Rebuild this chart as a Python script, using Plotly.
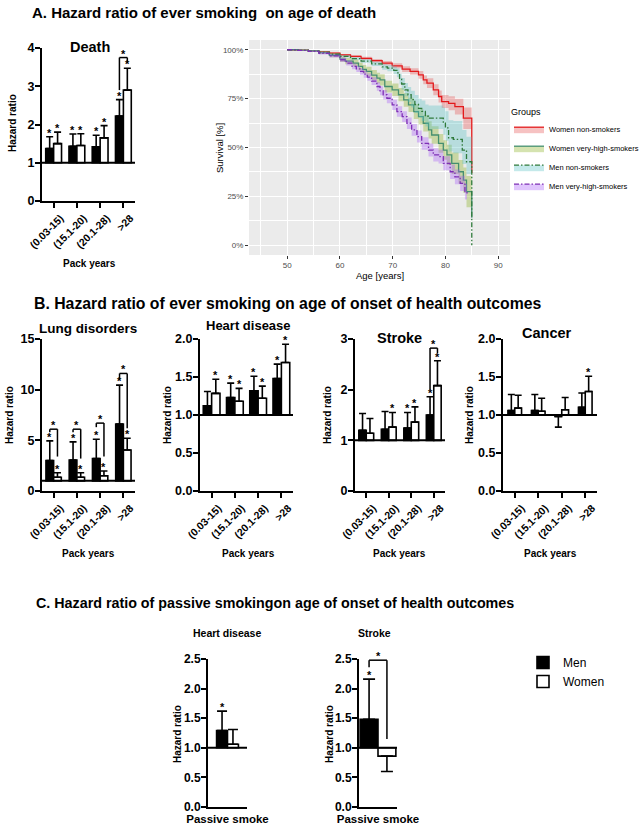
import plotly.graph_objects as go

W, H = 644, 830
FONT = "Liberation Sans, Arial, Helvetica, sans-serif"

# ---------------- data ----------------
pack_years = ["(0.03-15)", "(15.1-20)", "(20.1-28)", ">28"]
passive = ["Passive smoke"]

# A. death
death_men = [1.37, 1.43, 1.42, 2.22]
death_men_ci = [1.68, 1.75, 1.72, 2.65]
death_women = [1.50, 1.45, 1.65, 2.90]
death_women_ci = [1.80, 1.76, 1.97, 3.47]
death_men_sig = [1, 1, 1, 1]
death_women_sig = [1, 1, 1, 1]
death_brackets = [(3, 2.90, 3.75, 3.62)]

# B. lung disorders
lung_men = [3.00, 3.05, 3.20, 6.60]
lung_men_ci = [4.95, 4.85, 5.10, 10.45]
lung_women = [1.35, 1.35, 1.50, 4.05]
lung_women_ci = [1.80, 1.80, 1.97, 5.20]
lung_men_sig = [1, 1, 1, 1]
lung_women_sig = [1, 1, 1, 1]
lung_brackets = [(0, 5.8, 6.1, 3.4), (1, 5.8, 6.1, 3.2), (2, 6.3, 6.7, 3.4), (3, 11.0, 11.6, 6.2)]

# B. heart disease
heart_men = [1.12, 1.23, 1.32, 1.48]
heart_men_ci = [1.31, 1.42, 1.51, 1.67]
heart_women = [1.285, 1.18, 1.22, 1.69]
heart_women_ci = [1.47, 1.35, 1.38, 1.93]
heart_men_sig = [0, 1, 1, 1]
heart_women_sig = [1, 1, 1, 1]

# B. stroke
stroke_men = [1.20, 1.22, 1.24, 1.50]
stroke_men_ci = [1.53, 1.57, 1.55, 1.86]
stroke_women = [1.14, 1.26, 1.36, 2.08]
stroke_women_ci = [1.43, 1.55, 1.66, 2.57]
stroke_men_sig = [0, 0, 1, 1]
stroke_women_sig = [0, 1, 1, 1]
stroke_brackets = [(3, 2.0, 2.82, 2.72)]

# B. cancer
cancer_men = [1.06, 1.06, 0.98, 1.10]
cancer_men_ci = [1.27, 1.27, 0.84, 1.29]
cancer_women = [1.09, 1.05, 1.07, 1.31]
cancer_women_ci = [1.26, 1.22, 1.23, 1.51]
cancer_men_sig = [0, 0, 0, 0]
cancer_women_sig = [0, 0, 0, 1]

# C. passive smoking
ps_heart_men = [1.29]
ps_heart_men_ci = [1.62]
ps_heart_women = [1.06]
ps_heart_women_ci = [1.31]
ps_stroke_men = [1.48]
ps_stroke_men_ci = [2.16]
ps_stroke_women = [0.86]
ps_stroke_women_ci = [0.60]
ps_stroke_brackets = [(0, 2.36, 2.48, 1.15)]

# A. Kaplan-Meier survival (%)
wn_age = [50, 52, 54, 56, 58, 60, 62, 64, 66, 68, 69.9, 71.8, 73.3, 74.9, 75.8, 76.5, 77.7, 78.7, 79.3, 80.6, 81.8, 83.4, 85]
wn_surv = [100, 99.8, 99.4, 98.9, 98.3, 97.4, 96.6, 95.6, 94.4, 93.2, 91.8, 90.1, 88.9, 87.2, 84.6, 82.9, 79.5, 76.1, 73.5, 72.6, 70.9, 65.0, 37.0]
wn_lo = [100, 99.7, 99.2, 98.6, 97.9, 96.9, 96.0, 94.8, 93.5, 92.1, 90.5, 88.6, 87.2, 85.2, 82.3, 80.4, 76.7, 73.0, 70.2, 69.0, 66.9, 59.5, 59.5]
wn_hi = [100, 99.9, 99.6, 99.2, 98.7, 97.9, 97.2, 96.4, 95.3, 94.3, 93.1, 91.6, 90.6, 89.2, 86.9, 85.4, 82.3, 79.2, 76.8, 76.2, 74.9, 70.5, 70.5]

wv_age = [50, 52, 54, 56, 58, 60, 61, 62.5, 63.5, 64.3, 65, 66, 67, 67.6, 68.5, 69.9, 71.1, 72.1, 73, 74, 74.9, 75.8, 76.8, 77.4, 78.7, 79.6, 80.3, 81.2, 82.5, 83.4, 84, 85]
wv_surv = [100, 99.8, 99.4, 98.6, 97.2, 95.2, 94.2, 93.2, 91.5, 90.0, 88.9, 87.0, 85.5, 84.6, 81.2, 79.5, 77.0, 74.4, 71.8, 68.4, 65.8, 62.4, 59.0, 56.4, 52.1, 48.7, 46.2, 41.9, 37.6, 33.3, 27.4, 14.0]
wv_lo = [100, 99.6, 99.0, 97.9, 96.2, 93.8, 92.6, 91.4, 89.5, 87.8, 86.5, 84.4, 82.7, 81.7, 78.2, 76.3, 73.6, 70.9, 68.2, 64.6, 61.8, 58.2, 54.6, 51.9, 47.3, 43.7, 41.0, 36.4, 31.6, 26.8, 19.4, 19.4]
wv_hi = [100, 100, 99.8, 99.3, 98.2, 96.6, 95.8, 95.0, 93.5, 92.2, 91.3, 89.6, 88.3, 87.5, 84.2, 82.7, 80.4, 77.9, 75.4, 72.2, 69.8, 66.6, 63.4, 60.9, 56.9, 53.7, 51.4, 47.4, 43.6, 39.8, 35.4, 35.4]

mn_age = [50, 52, 54, 56, 58, 60, 62, 64, 66, 68, 69, 70.2, 70.8, 71.3, 71.7, 72.3, 72.9, 73.5, 74.2, 74.9, 75.5, 76.2, 76.8, 79.6, 80.0, 80.6, 81.5, 83.2, 84.0, 85]
mn_surv = [100, 99.7, 99.3, 98.6, 97.7, 96.6, 95.5, 94.2, 92.8, 91.2, 90.6, 89.5, 88.2, 85.0, 82.5, 79.5, 77.0, 74.5, 72.0, 70.0, 68.5, 66.0, 65.0, 62.5, 60.0, 55.0, 54.2, 48.7, 42.7, 0.0]
mn_lo = [100, 99.6, 99.1, 98.3, 97.3, 96.0, 94.8, 93.3, 91.7, 89.8, 89.0, 87.5, 85.9, 82.3, 79.5, 76.2, 73.3, 70.5, 67.7, 65.4, 63.6, 60.8, 59.5, 56.5, 53.5, 48.0, 47.0, 41.5, 36.5, 36.5]
mn_hi = [100, 99.8, 99.5, 98.9, 98.1, 97.2, 96.2, 95.1, 93.9, 92.6, 92.2, 91.5, 90.5, 87.7, 85.5, 83.0, 81.0, 79.0, 76.8, 75.0, 74.0, 72.0, 71.5, 70.5, 68.5, 64.0, 63.5, 59.0, 55.5, 55.5]

mv_age = [50, 52, 54, 56, 58, 60, 61.2, 62.3, 63.1, 63.8, 64.5, 65.2, 66.0, 67.0, 67.6, 68.2, 68.9, 69.9, 70.8, 71.8, 72.7, 73.6, 74.6, 75.5, 76.8, 77.7, 78.7, 79.6, 80.9, 81.8, 82.8, 83.7, 84.1]
mv_surv = [100, 99.7, 99.2, 98.2, 96.9, 94.9, 93.2, 91.5, 90.2, 88.9, 87.5, 86.0, 84.0, 81.2, 79.0, 77.0, 75.2, 71.8, 68.4, 65.8, 62.4, 59.0, 55.6, 52.1, 48.7, 46.2, 45.3, 41.9, 37.6, 35.0, 31.6, 27.4, 26.0]
mv_lo = [100, 99.5, 98.8, 97.6, 96.1, 93.8, 91.9, 90.0, 88.6, 87.2, 85.7, 84.1, 82.0, 79.0, 76.7, 74.6, 72.7, 69.2, 65.7, 63.0, 59.5, 56.0, 52.5, 48.9, 45.4, 42.8, 41.8, 38.3, 33.9, 31.2, 27.7, 23.4, 22.0]
mv_hi = [100, 99.9, 99.6, 98.8, 97.7, 96.0, 94.5, 93.0, 91.8, 90.6, 89.3, 87.9, 86.0, 83.4, 81.3, 79.4, 77.7, 74.4, 71.1, 68.6, 65.3, 62.0, 58.7, 55.3, 52.0, 49.6, 48.8, 45.5, 41.3, 38.8, 35.5, 31.4, 30.0]

km_names = ["Women non-smokers", "Women very-high-smokers", "Men non-smokers", "Men very-high-smokers"]
km_ticks_x = [50, 60, 70, 80, 90]
km_ticks_y = [0, 25, 50, 75, 100]
km_ticks_y_text = ["0%", "25%", "50%", "75%", "100%"]

# ---------------- helpers ----------------
def axname(a):
    return ("xaxis" if a[0] == "x" else "yaxis") + a[1:]

def bold(size, color="black"):
    return dict(family=FONT, size=size, color=color, weight="bold")

fig = go.Figure()
annotations = []
shapes = []
layout_axes = {}

bar_panels = [
    dict(xa="x", ya="y", cats=pack_years, men=death_men, men_ci=death_men_ci, women=death_women,
         women_ci=death_women_ci, msig=death_men_sig, wsig=death_women_sig, brackets=death_brackets,
         yr=[0, 4], tickvals=[0, 1, 2, 3, 4], fmt="d", box=(42, 135, 48, 201), w=0.34, cap=3.5,
         xticks="outside", tickangle=-45, xfs=10.5, yfs=12.5, shift=7),
    dict(xa="x3", ya="y3", cats=pack_years, men=lung_men, men_ci=lung_men_ci, women=lung_women,
         women_ci=lung_women_ci, msig=lung_men_sig, wsig=lung_women_sig, brackets=lung_brackets,
         yr=[0, 15], tickvals=[0, 5, 10, 15], fmt="d", box=(42, 135, 339, 491), w=0.33, cap=3.5,
         xticks="outside", tickangle=-45, xfs=10.5, yfs=12.5, shift=7),
    dict(xa="x4", ya="y4", cats=pack_years, men=heart_men, men_ci=heart_men_ci, women=heart_women,
         women_ci=heart_women_ci, msig=heart_men_sig, wsig=heart_women_sig, brackets=[],
         yr=[0, 2], tickvals=[0, 0.5, 1, 1.5, 2], fmt=".1f", box=(200, 293, 339, 491), w=0.36, cap=3.5,
         xticks="outside", tickangle=-45, xfs=10.5, yfs=12.5, shift=7),
    dict(xa="x5", ya="y5", cats=pack_years, men=stroke_men, men_ci=stroke_men_ci, women=stroke_women,
         women_ci=stroke_women_ci, msig=stroke_men_sig, wsig=stroke_women_sig, brackets=stroke_brackets,
         yr=[0, 3], tickvals=[0, 1, 2, 3], fmt="d", box=(355, 445, 339, 491), w=0.33, cap=3.5,
         xticks="outside", tickangle=-45, xfs=10.5, yfs=12.5, shift=7),
    dict(xa="x6", ya="y6", cats=pack_years, men=cancer_men, men_ci=cancer_men_ci, women=cancer_women,
         women_ci=cancer_women_ci, msig=cancer_men_sig, wsig=cancer_women_sig, brackets=[],
         yr=[0, 2], tickvals=[0, 0.5, 1, 1.5, 2], fmt=".1f", box=(503, 597, 339, 491), w=0.29, cap=3.5,
         xticks="outside", tickangle=-45, xfs=10.5, yfs=12.5, shift=7),
    dict(xa="x7", ya="y7", cats=passive, men=ps_heart_men, men_ci=ps_heart_men_ci, women=ps_heart_women,
         women_ci=ps_heart_women_ci, msig=[1], wsig=[0], brackets=[],
         yr=[0, 2.5], tickvals=[0, 0.5, 1, 1.5, 2, 2.5], fmt=".1f", box=(208, 247, 659, 807), w=0.28, cap=5,
         xticks="", tickangle=0, xfs=11.5, yfs=12, shift=0),
    dict(xa="x8", ya="y8", cats=passive, men=ps_stroke_men, men_ci=ps_stroke_men_ci, women=ps_stroke_women,
         women_ci=ps_stroke_women_ci, msig=[1], wsig=[0], brackets=ps_stroke_brackets,
         yr=[0, 2.5], tickvals=[0, 0.5, 1, 1.5, 2, 2.5], fmt=".1f", box=(359, 397, 659, 807), w=0.47, cap=6,
         xticks="", tickangle=0, xfs=11.5, yfs=12, shift=0),
]

for i, p in enumerate(bar_panels):
    x0, x1, y0, y1 = p["box"]
    n = len(p["cats"])
    w = p["w"]
    last = (i == len(bar_panels) - 1)
    for sex, vals, cis, fill, off, sig in (
        ("Men", p["men"], p["men_ci"], "black", -w, p["msig"]),
        ("Women", p["women"], p["women_ci"], "white", 0.0, p["wsig"]),
    ):
        length = [v - 1 for v in vals]
        up = [(c - v) if v >= 1 else 0 for v, c in zip(vals, cis)]
        dn = [(v - c) if v < 1 else 0 for v, c in zip(vals, cis)]
        fig.add_trace(go.Bar(
            x=p["cats"], y=length, base=1, offset=off, width=w, name=sex,
            marker=dict(color=fill, line=dict(color="black", width=1.6)),
            error_y=dict(type="data", symmetric=False, array=up, arrayminus=dn,
                         color="black", thickness=1.6, width=p["cap"]),
            xaxis=p["xa"], yaxis=p["ya"], legend="legend2",
            showlegend=last, hoverinfo="skip"))
        centre = off + w / 2
        for k, (v, c, s) in enumerate(zip(vals, cis, sig)):
            if s:
                annotations.append(dict(x=k + centre, y=c, xref=p["xa"], yref=p["ya"], text="*",
                                        showarrow=False, yanchor="bottom", yshift=-4,
                                        font=bold(11)))
    # significance brackets
    for (k, yl, yt, yr_) in p["brackets"]:
        xl, xr = k - w / 2, k + w / 2
        for (ax0, ay0, ax1, ay1) in ((xl, yl, xl, yt), (xl, yt, xr, yt), (xr, yt, xr, yr_)):
            shapes.append(dict(type="line", xref=p["xa"], yref=p["ya"], x0=ax0, y0=ay0, x1=ax1, y1=ay1,
                               line=dict(color="black", width=1.5)))
        annotations.append(dict(x=k, y=yt, xref=p["xa"], yref=p["ya"], text="*", showarrow=False,
                                yanchor="bottom", yshift=-4, font=bold(11)))
    # reference line at HR = 1
    shapes.append(dict(type="line", xref=p["xa"], yref=p["ya"], x0=-0.5, x1=n - 0.5, y0=1, y1=1,
                       line=dict(color="black", width=2)))
    layout_axes[axname(p["xa"])] = dict(
        domain=[x0 / W, x1 / W], anchor=p["ya"], type="category", categoryorder="array",
        categoryarray=p["cats"], range=[-0.5, n - 0.5], showline=True, linecolor="black", linewidth=2,
        ticks=p["xticks"], ticklen=5, tickwidth=2, tickcolor="black", tickangle=p["tickangle"],
        tickfont=bold(p["xfs"]), ticklabelshift=p["shift"], showgrid=False, zeroline=False,
        fixedrange=True, automargin=False)
    layout_axes[axname(p["ya"])] = dict(
        domain=[1 - y1 / H, 1 - y0 / H], anchor=p["xa"], range=p["yr"], tickvals=p["tickvals"],
        tickformat=p["fmt"], showline=True, linecolor="black", linewidth=2, ticks="outside",
        ticklen=5, tickwidth=2, tickcolor="black", tickfont=bold(p["yfs"]), showgrid=False,
        zeroline=False, fixedrange=True, automargin=False, ticklabelstandoff=-2)

# ---------------- Kaplan-Meier panel ----------------
km_groups = [
    (km_names[0], wn_age, wn_surv, wn_lo, wn_hi, "#E31A1C", "solid", "rgba(229,81,81,0.35)"),
    (km_names[1], wv_age, wv_surv, wv_lo, wv_hi, "#458F70", "solid", "rgba(135,175,29,0.35)"),
    (km_names[2], mn_age, mn_surv, mn_lo, mn_hi, "#2F7A3B", "5px,2px,1.5px,2px", "rgba(86,192,195,0.35)"),
    (km_names[3], mv_age, mv_surv, mv_lo, mv_hi, "#7E2FB5", "5px,2px,1.5px,2px", "rgba(167,90,250,0.35)"),
]
for name, age, s, lo, hi, col, dash, fillc in km_groups:
    fig.add_trace(go.Scatter(x=age, y=hi, mode="lines", line=dict(width=0, shape="hv"),
                             xaxis="x2", yaxis="y2", showlegend=False, hoverinfo="skip"))
    fig.add_trace(go.Scatter(x=age, y=s, mode="lines", name=name,
                             line=dict(color=col, width=1.3, dash=dash, shape="hv"),
                             fill="tonexty", fillcolor=fillc, xaxis="x2", yaxis="y2", legend="legend"))
    fig.add_trace(go.Scatter(x=age, y=lo, mode="lines", line=dict(width=0, shape="hv"),
                             fill="tonexty", fillcolor=fillc, xaxis="x2", yaxis="y2",
                             showlegend=False, hoverinfo="skip"))

km_xr = [42.75, 92.25]
km_yr = [-5, 105]
shapes.append(dict(type="rect", xref="x2", yref="y2", x0=km_xr[0], x1=km_xr[1], y0=km_yr[0], y1=km_yr[1],
                   fillcolor="#EBEBEB", line=dict(width=0), layer="below"))
grey_font = dict(family=FONT, size=8, color="#4D4D4D")
layout_axes["xaxis2"] = dict(
    domain=[249 / W, 510 / W], anchor="y2", range=km_xr, tickvals=km_ticks_x, showgrid=True,
    gridcolor="white", gridwidth=1.1, zeroline=False, showline=False, ticks="outside", ticklen=3,
    tickwidth=1, tickcolor="#333333", tickfont=grey_font, ticklabelstandoff=-1,
    minor=dict(tickvals=[45, 55, 65, 75, 85], showgrid=True, gridcolor="white", gridwidth=0.5, ticks=""),
    fixedrange=True, automargin=False)
layout_axes["yaxis2"] = dict(
    domain=[1 - 255 / H, 1 - 40 / H], anchor="x2", range=km_yr, tickvals=km_ticks_y,
    ticktext=km_ticks_y_text, tickmode="array",
    showgrid=True, gridcolor="white", gridwidth=1.1, zeroline=False, showline=False, ticks="outside",
    ticklen=3, tickwidth=1, tickcolor="#333333", tickfont=grey_font,
    minor=dict(tickvals=[12.5, 37.5, 62.5, 87.5], showgrid=True, gridcolor="white", gridwidth=0.5, ticks=""),
    fixedrange=True, automargin=False)

# ---------------- text ----------------
def txt(text, x, y, size, b=True, angle=0, xanchor="center", color="black"):
    f = bold(size, color) if b else dict(family=FONT, size=size, color=color)
    annotations.append(dict(text=text, x=x / W, y=1 - y / H, xref="paper", yref="paper",
                            showarrow=False, xanchor=xanchor, yanchor="middle", textangle=angle, font=f))

txt("A. Hazard ratio of ever smoking  on age of death", 30, 12, 15, xanchor="left")
txt("B. Hazard ratio of ever smoking on age of onset of health outcomes", 32, 303, 15.8, xanchor="left")
txt("C. Hazard ratio of passive smokingon age of onset of health outcomes", 34, 603, 14.3, xanchor="left")

txt("Death", 90, 47, 14.5)
txt("Lung disorders", 88, 328, 13.5)
txt("Heart disease", 248, 325, 13)
txt("Stroke", 400, 338, 14.5)
txt("Cancer", 547, 333, 14.5)
txt("Heart disease", 227, 633, 10.5)
txt("Stroke", 374, 633, 10.5)

for hx, hy in ((12, 123), (9, 415), (167, 415), (327, 415), (469, 415), (177, 734), (329, 734)):
    txt("Hazard ratio", hx, hy, 10, angle=-90)
for cx, cy in ((90, 263), (88, 553), (248, 553), (400, 553), (550, 553)):
    txt("Pack years", cx, cy, 10)

txt("Survival [%]", 220, 148, 9.5, b=False, angle=-90)
txt("Age [years]", 380, 275, 9.5, b=False)

fig.update_layout(
    width=W, height=H, margin=dict(l=0, r=0, t=0, b=0, autoexpand=False),
    paper_bgcolor="white", plot_bgcolor="white",
    barmode="overlay", showlegend=True,
    font=dict(family=FONT, color="black"),
    annotations=annotations, shapes=shapes,
    legend=dict(x=509 / W, y=1 - 103 / H, xanchor="left", yanchor="top", traceorder="normal",
                title=dict(text="Groups", font=dict(family=FONT, size=9, color="black")),
                font=dict(family=FONT, size=7.5, color="black"), bgcolor="rgba(0,0,0,0)",
                itemwidth=30, tracegroupgap=0),
    legend2=dict(x=523 / W, y=1 - 648 / H, xanchor="left", yanchor="top", traceorder="normal",
                 font=dict(family=FONT, size=12, color="black"), bgcolor="rgba(0,0,0,0)",
                 itemwidth=30),
    **layout_axes,
)

fig.write_html("out.html", config={"displayModeBar": False},
               post_script="document.body.style.margin='0px';")
